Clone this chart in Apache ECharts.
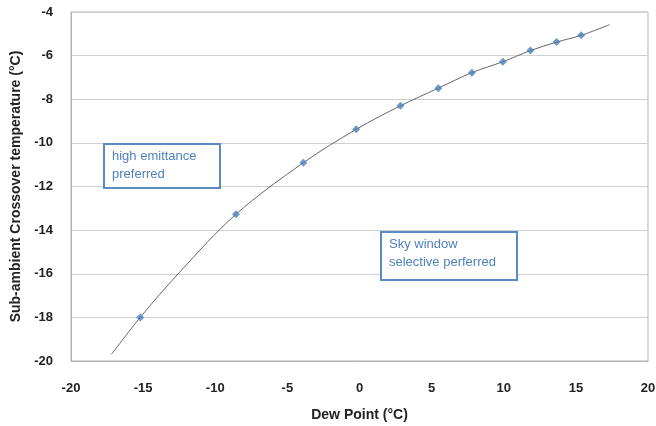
<!DOCTYPE html>
<html>
<head>
<meta charset="utf-8">
<script src="https://cdn.jsdelivr.net/npm/echarts@6/dist/echarts.min.js"></script>
<style>
  html, body { margin: 0; padding: 0; background: #fff; }
  #chart { width: 656px; height: 426px; }
</style>
</head>
<body>
<div id="chart"></div>
<script>
// Measured crossover temperatures against dew point
const dewPoint = [-15.2, -8.56, -3.89, -0.23, 2.84, 5.47, 7.79, 9.94, 11.85, 13.66, 15.37];
const crossover = [-18.0, -13.27, -10.91, -9.38, -8.30, -7.49, -6.78, -6.28, -5.77, -5.38, -5.07];

// Trend curve
const trendX = [-17.2, -15.2, -12.5, -8.56, -3.89, -0.23, 2.84, 5.47, 7.79, 9.94, 11.85, 13.66, 15.37, 17.33];
const trendY = [-19.7, -18.0, -15.95, -13.27, -10.91, -9.38, -8.30, -7.49, -6.78, -6.28, -5.77, -5.38, -5.07, -4.58];

const xTicks = { min: -20, max: 20, step: 5 };
const yTicks = { min: -20, max: -4, step: 2 };

const annotations = [
  { lines: ['high emittance', 'preferred'], left: 103, top: 143, width: 116, height: 44 },
  { lines: ['Sky window', 'selective perferred'], left: 380, top: 231, width: 136, height: 48 }
];

const chart = echarts.init(document.getElementById('chart'), null, { renderer: 'canvas' });

const labelFont = { fontFamily: 'Liberation Sans', fontWeight: 'bold', fontSize: 13, color: '#222' };
const nameFont = { fontFamily: 'Liberation Sans', fontWeight: 'bold', fontSize: 14, color: '#222' };
const boxColor = '#5a89c4';

chart.setOption({
  animation: false,
  backgroundColor: '#fff',
  grid: {
    left: 71, right: 8, top: 12, bottom: 65,
    outerBoundsMode: 'none',
    containLabel: false,
    show: true, borderColor: '#b3b3b3', borderWidth: 1
  },
  xAxis: {
    type: 'value',
    min: xTicks.min, max: xTicks.max, interval: xTicks.step,
    name: 'Dew Point (°C)',
    nameLocation: 'middle',
    nameGap: 47,
    nameTextStyle: nameFont,
    axisLine: { show: true, onZero: false, lineStyle: { color: '#b3b3b3' } },
    axisTick: { show: false },
    axisLabel: Object.assign({ margin: 21 }, labelFont),
    splitLine: { show: false }
  },
  yAxis: {
    type: 'value',
    min: yTicks.min, max: yTicks.max, interval: yTicks.step,
    name: 'Sub-ambient Crossover temperature (°C)',
    nameLocation: 'middle',
    nameGap: 44,
    nameTextStyle: nameFont,
    axisLine: { show: true, onZero: false, lineStyle: { color: '#b3b3b3' } },
    axisTick: { show: false },
    axisLabel: Object.assign({ margin: 18 }, labelFont),
    splitLine: { show: true, lineStyle: { color: '#cfcfcf', width: 1 } }
  },
  series: [
    {
      type: 'line',
      data: trendX.map((x, i) => [x, trendY[i]]),
      smooth: 0.35,
      showSymbol: false,
      lineStyle: { color: '#666', width: 1 },
      z: 2
    },
    {
      type: 'scatter',
      data: dewPoint.map((x, i) => [x, crossover[i]]),
      symbol: 'diamond',
      symbolSize: 8,
      itemStyle: { color: '#4a7ebb' },
      z: 3
    }
  ],
  graphic: annotations.map(a => ({
    type: 'group',
    left: a.left,
    top: a.top,
    z: 100,
    children: [
      {
        type: 'rect',
        z: 100,
        shape: { x: 1, y: 1, width: a.width, height: a.height },
        style: { fill: '#fff', stroke: boxColor, lineWidth: 2 }
      },
      {
        type: 'text',
        z: 101,
        x: 9, y: 5,
        style: {
          text: a.lines.join('\n'),
          fill: '#4f81bd',
          font: '13px "Liberation Sans"',
          lineHeight: 17.5
        }
      }
    ]
  }))
});
</script>
</body>
</html>
